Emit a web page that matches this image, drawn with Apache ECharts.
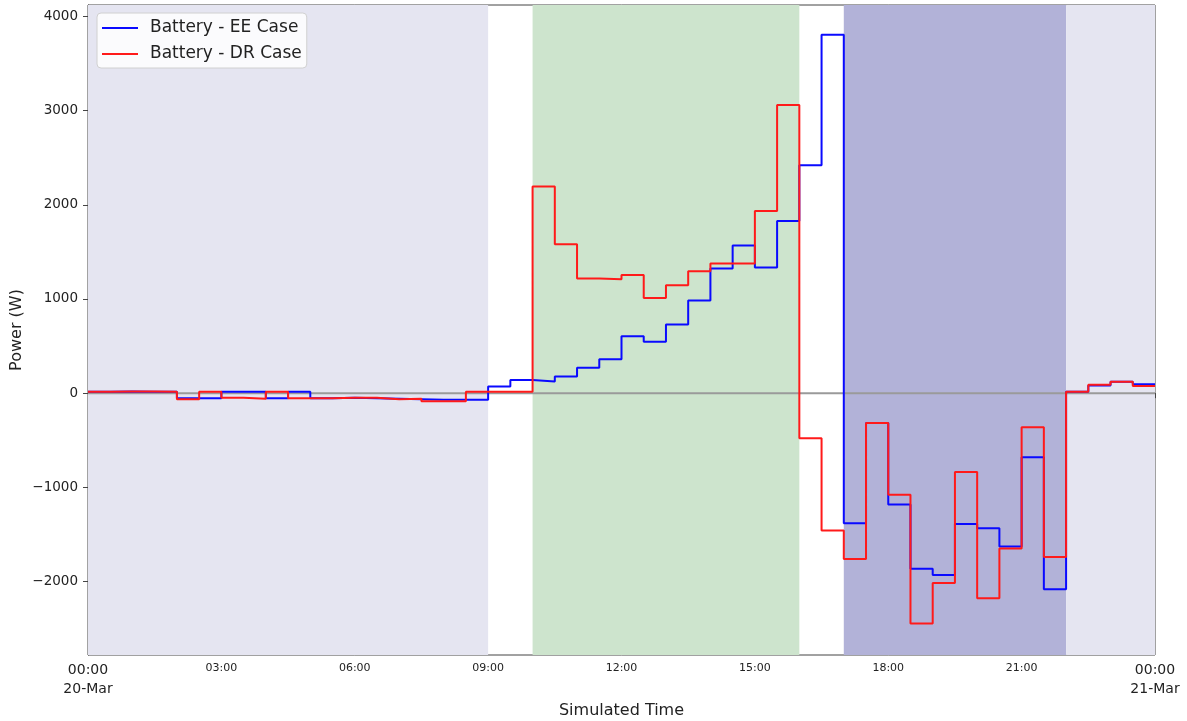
<!DOCTYPE html>
<html>
<head>
<meta charset="utf-8">
<script src="https://cdn.jsdelivr.net/npm/echarts@6/dist/echarts.min.js"></script>
<style>
html,body{margin:0;padding:0;background:#fff;}
#chart{width:1187px;height:721px;}
</style>
</head>
<body>
<div id="chart"></div>
<script>
// ---- data ----
var hours = [0,0.5,1,1.5,2,2.5,3,3.5,4,4.5,5,5.5,6,6.5,7,7.5,8,8.5,9,9.5,10,10.5,11,11.5,12,12.5,13,13.5,14,14.5,15,15.5,16,16.5,17,17.5,18,18.5,19,19.5,20,20.5,21,21.5,22,22.5,23,23.5,24];
var eeCase = [15,18,15,15,-55,-55,15,15,-55,15,-55,-50,-55,-60,-65,-70,-70,-70,70,140,124,177,269,361,605,545,729,984,1323,1567,1334,1828,2419,3805,-1381,-318,-1181,-1864,-1931,-1390,-1435,-1627,-680,-2083,15,80,120,95,95];
var drCase = [15,18,18,15,-65,15,-50,-60,15,-55,-55,-50,-50,-65,-60,-85,-85,15,15,15,2193,1581,1217,1210,1255,1011,1146,1294,1376,1376,1934,3059,-479,-1458,-1761,-318,-1078,-2445,-2016,-836,-2177,-1650,-363,-1739,15,90,120,75,75];
var seriesNames = ['Battery - EE Case','Battery - DR Case'];
var shadeFrom = [0,10,17,22];
var shadeTo = [9,16,22,24];
var yTicks = [-2000,-1000,0,1000,2000,3000,4000];
var startDate = '20-Mar', endDate = '21-Mar';
var xTitle = 'Simulated Time', yTitle = 'Power (W)';

// ---- styles ----
var shadeColors = ['#e5e5f1','#cde4cd','#b2b2d8','#e5e5f1'];
var FONT = 'DejaVu Sans';

function pairs(xs, ys){ return xs.map(function(x,i){return [x, ys[i]];}); }
function pad(n){ return (n<10?'0':'')+n; }

var chart = echarts.init(document.getElementById('chart'));
chart.setOption({
  animation:false,
  backgroundColor:'#fff',
  grid:{left:88,right:32,top:5,bottom:66,show:true,borderColor:'#444',borderWidth:1,
        outerBoundsMode:'none', containLabel:false},
  legend:{
    data:seriesNames.map(function(n){return {name:n, icon:'rect'};}),
    orient:'vertical', left:97, top:13,
    padding:[5,5,4,5], itemGap:6, itemWidth:36, itemHeight:2,
    backgroundColor:'rgba(255,255,255,0.85)', borderColor:'#d0d0d0', borderWidth:1, borderRadius:4,
    textStyle:{fontFamily:FONT,fontSize:17,lineHeight:20,color:'#222',padding:[0,0,0,7]}
  },
  xAxis:{
    type:'value', min:0, max:24, interval:3,
    name:xTitle, nameLocation:'middle', nameGap:48, nameMoveOverlap:false,
    nameTextStyle:{fontFamily:FONT,fontSize:16,color:'#222'},
    axisLine:{show:true,lineStyle:{color:'#444',width:1}},
    axisTick:{show:true,length:5,inside:false,lineStyle:{color:'#444'}},
    splitLine:{show:false},
    axisLabel:{
      margin:6, color:'#222', fontFamily:FONT, showMinLabel:true, showMaxLabel:true,
      formatter:function(v){
        if(v===0) return '{big|00:00}\n{big|'+startDate+'}';
        if(v===24) return '{big|00:00}\n{big|'+endDate+'}';
        return '{sm|'+pad(v)+':00}';
      },
      rich:{
        big:{fontFamily:FONT,fontSize:14,lineHeight:19,color:'#222'},
        sm:{fontFamily:FONT,fontSize:11,lineHeight:14,color:'#222'}
      }
    }
  },
  yAxis:{
    type:'value', min:-2780, max:4121,
    name:yTitle, nameLocation:'middle', nameGap:63, nameRotate:90, nameMoveOverlap:false,
    nameTextStyle:{fontFamily:FONT,fontSize:16,color:'#222'},
    axisLine:{show:true,lineStyle:{color:'#444',width:1}},
    axisTick:{show:true,length:5,customValues:yTicks,lineStyle:{color:'#444'}},
    splitLine:{show:false},
    axisLabel:{
      margin:10, color:'#222', fontFamily:FONT, fontSize:13.5, customValues:yTicks,
      formatter:function(v){ return v<0 ? '\u2212'+Math.abs(v) : String(v); }
    }
  },
  series:[
    {
      name:'zero', type:'line', z:1, silent:true, symbol:'none',
      data:[[0,0],[24,0]],
      lineStyle:{color:'#9a9a9a',width:2},
      markArea:{silent:true, data:shadeFrom.map(function(f,i){
        return [{xAxis:f, itemStyle:{color:shadeColors[i]}},{xAxis:shadeTo[i]}];
      })}
    },
    {
      name:seriesNames[0], type:'line', step:'end', z:3, symbol:'none', showSymbol:false,
      data:pairs(hours, eeCase),
      lineStyle:{color:'#0a0aff',width:2}, itemStyle:{color:'#0a0aff'}
    },
    {
      name:seriesNames[1], type:'line', step:'end', z:4, symbol:'none', showSymbol:false,
      data:pairs(hours, drCase),
      lineStyle:{color:'#ff1a1a',width:2}, itemStyle:{color:'#ff1a1a'}
    }
  ]
});
</script>
</body>
</html>
